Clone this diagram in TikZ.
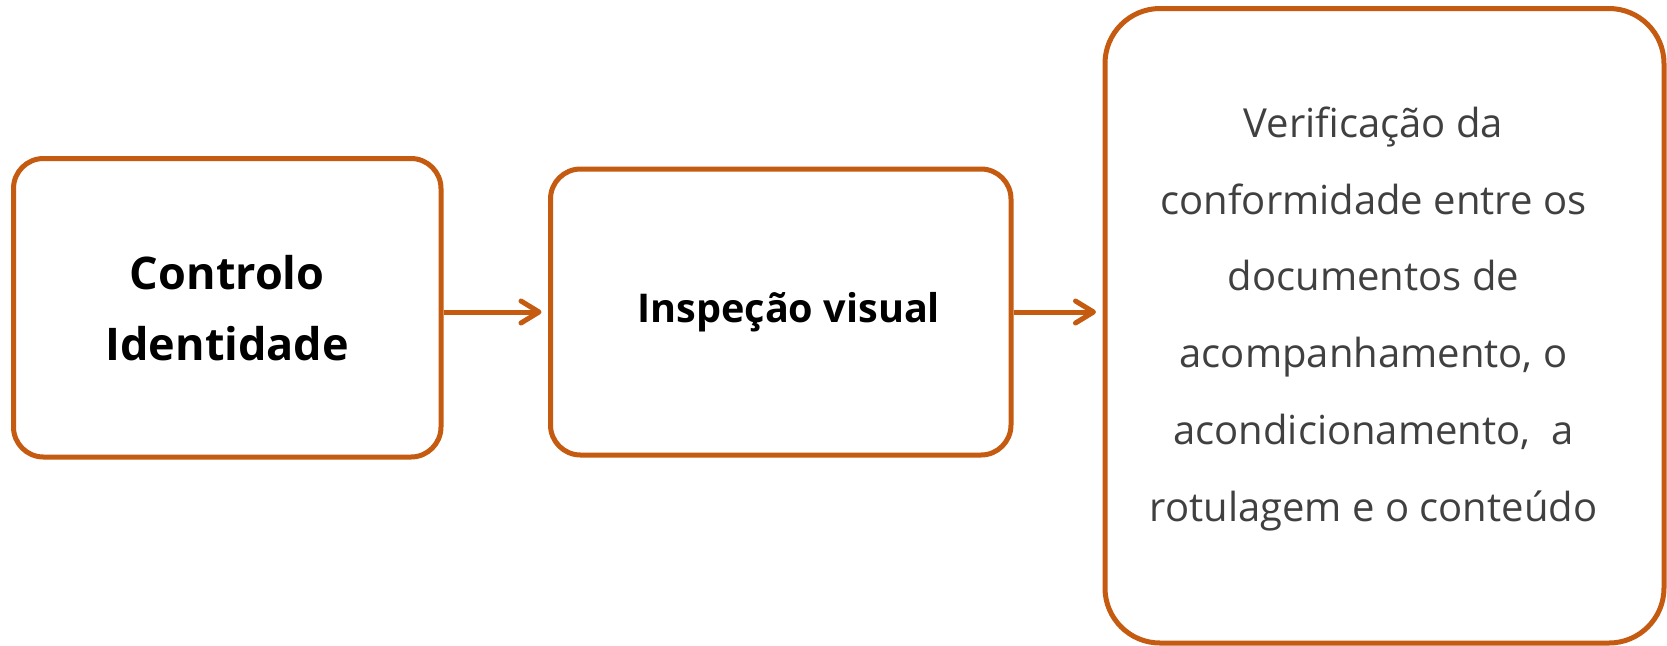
\documentclass[tikz,border=0pt]{standalone}
\usepackage{fontspec}
\setmainfont{Open Sans}
\usetikzlibrary{arrows.meta}
\definecolor{accent}{HTML}{C55A11}
\definecolor{bodytext}{HTML}{404040}
\tikzset{arrow/.style={-{Straight Barb[length=9pt,width=11pt,round]}, line width=2.5pt, draw=accent, shorten >=3.25pt}}
\tikzset{stage/.style={draw=accent, line width=2.5pt, rounded corners=15pt, align=center, inner sep=0pt}}

\begin{document}
\begin{tikzpicture}[x=0.5pt,y=-0.5pt]
      \useasboundingbox (0,0) rectangle (1667,645);

      \node[stage, minimum width=213.75pt, minimum height=149.25pt,
            font=\bfseries\fontsize{22.5}{35.5}\selectfont] (ctrl) at (227.25,307.75) {Controlo\\Identidade};
      \node[stage, minimum width=230.25pt, minimum height=143pt] (insp) at (780.75,312) {};
      \node[font=\bfseries\fontsize{19.8}{23}\selectfont] (inspText) at ([xshift=4pt]insp.center) {Inspeção visual};
      \node[stage, rounded corners=27.5pt, minimum width=279.5pt, minimum height=317.25pt] (verif) at (1384.5,325.75) {};
      \node[align=center, text=bodytext, font=\fontsize{20}{38.4}\selectfont] (verifText)
            at ([xshift=-5.5pt,yshift=3.5pt]verif.center)
            {Verificação da\\conformidade entre os\\documentos de\\acompanhamento, o\\acondicionamento,\ \ a\\rotulagem e o conteúdo};

      \draw[arrow] (ctrl.east |- insp.west) -- (insp.west);
      \draw[arrow] (insp.east) -- (verif.west |- insp.east);

    \end{tikzpicture}
\end{document}
